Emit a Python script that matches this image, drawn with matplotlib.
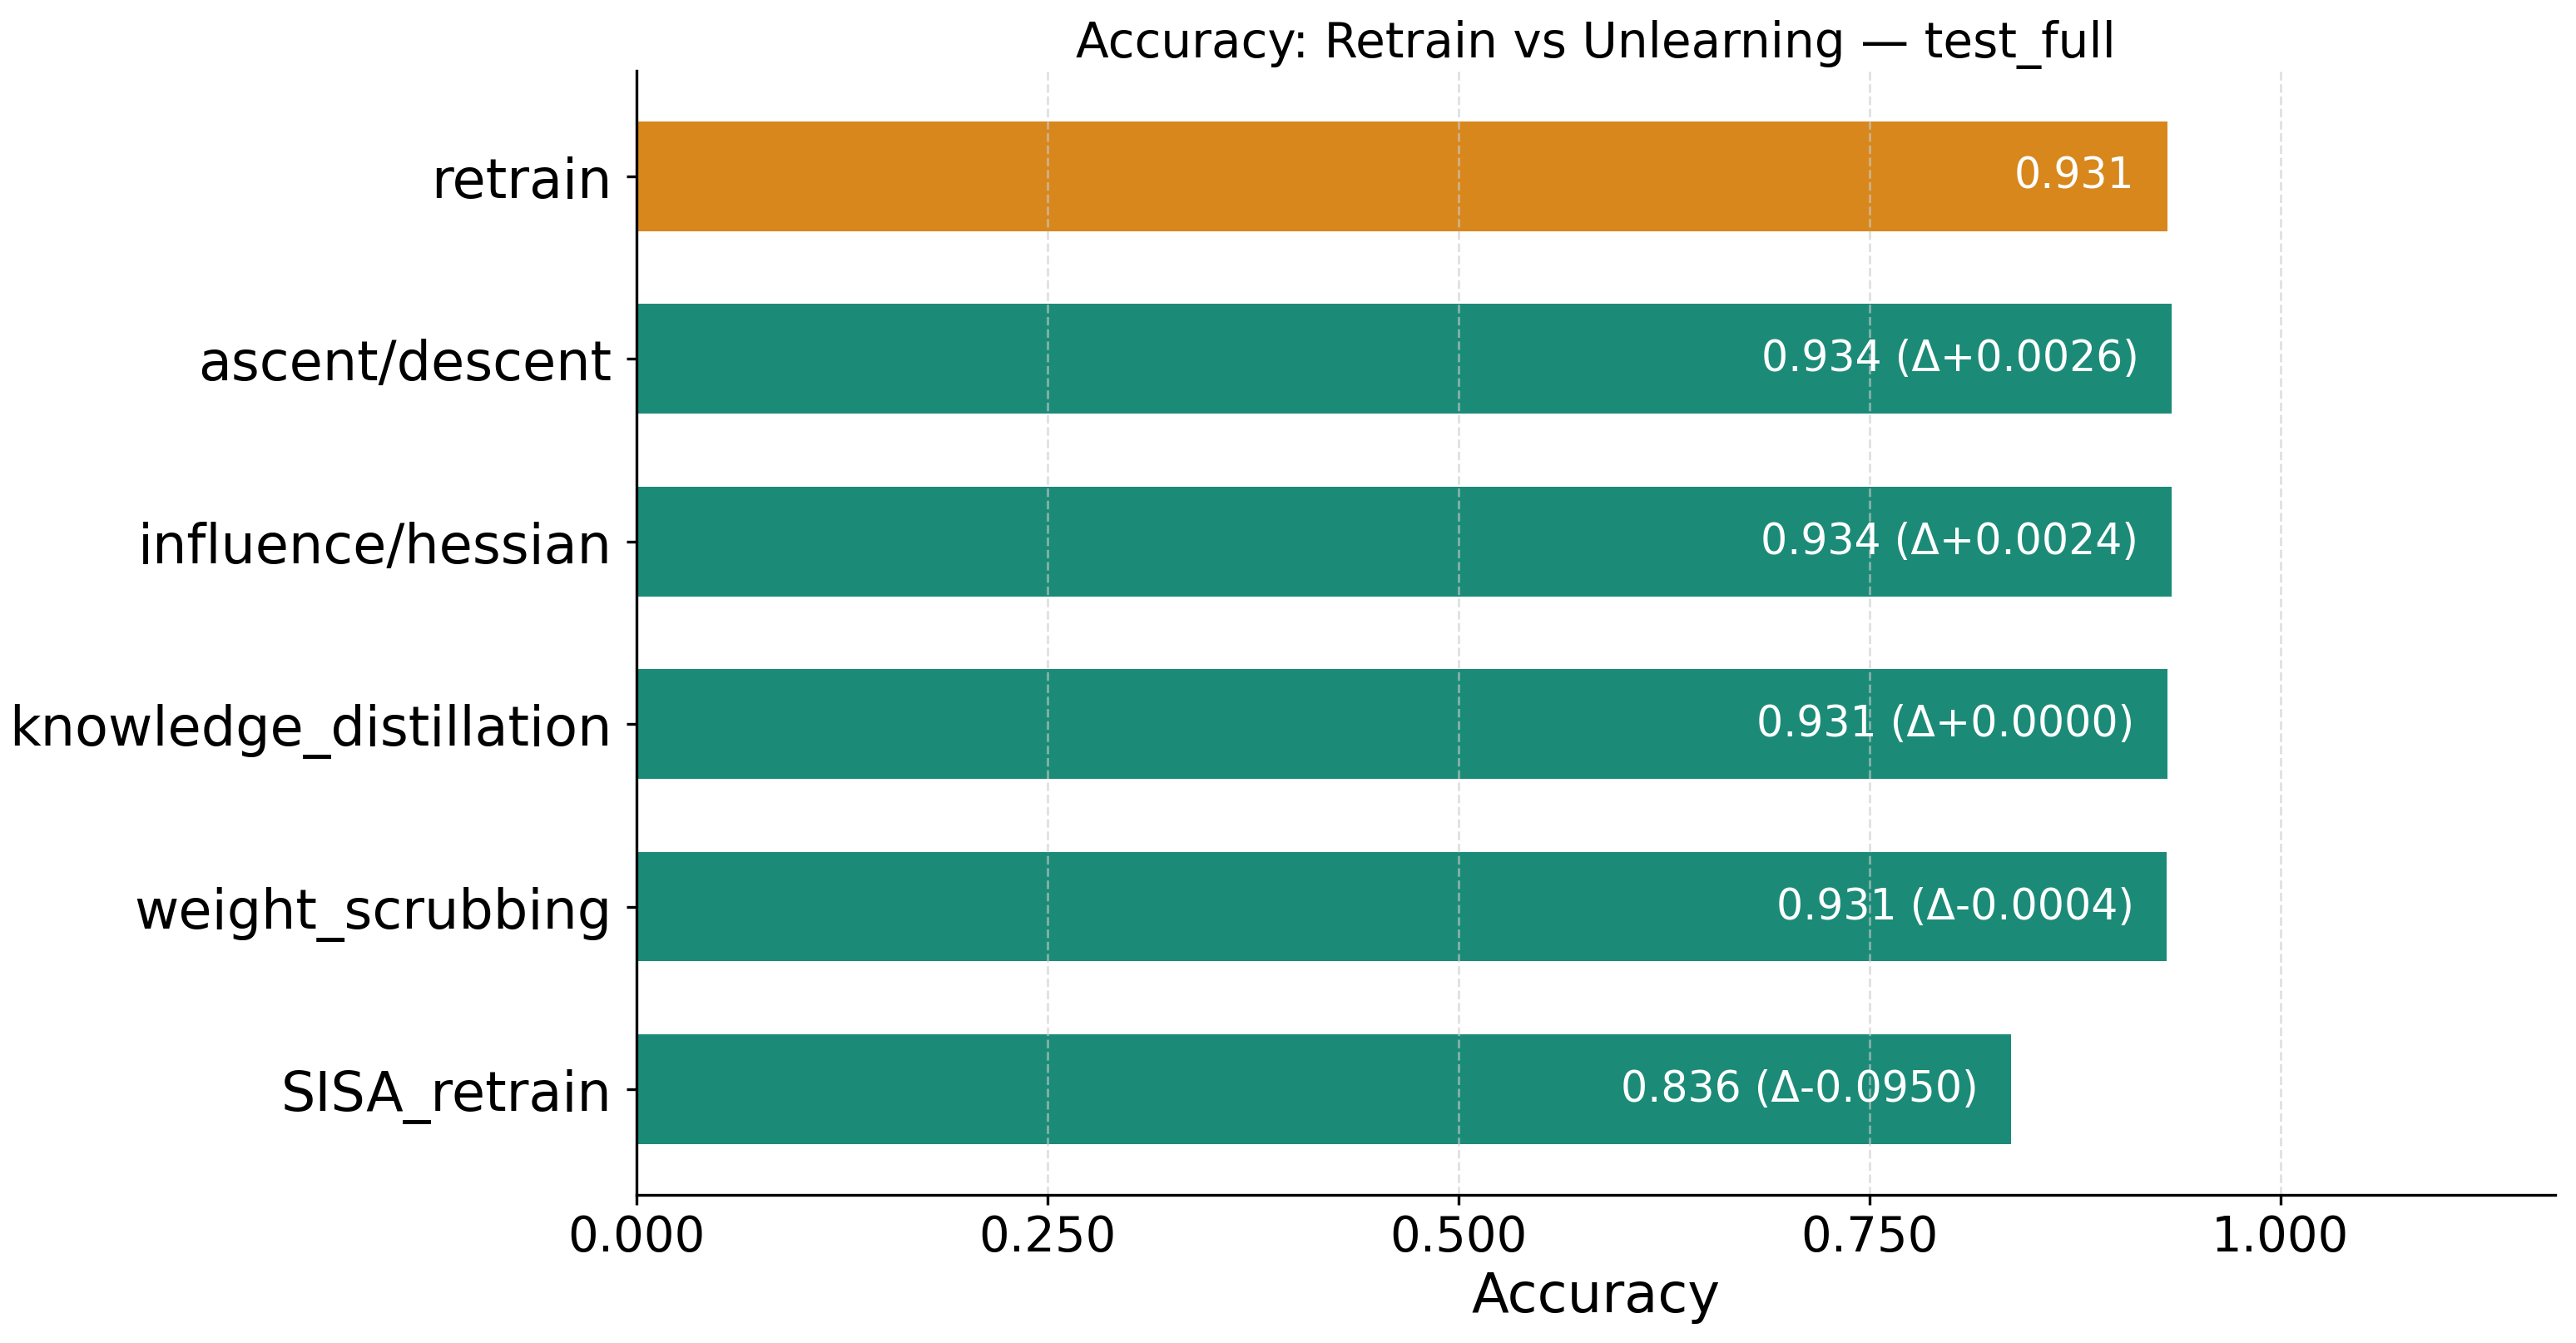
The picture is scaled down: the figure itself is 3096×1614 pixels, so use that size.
import matplotlib
matplotlib.use("Agg")
import matplotlib.pyplot as plt

# values
methods = ["retrain", "ascent/descent", "influence/hessian",
           "knowledge_distillation", "weight_scrubbing", "SISA_retrain"]
accuracy = [0.9312, 0.9338, 0.9336, 0.9312, 0.9308, 0.8362]
x_ticks = [0.0, 0.25, 0.5, 0.75, 1.0]

retrain_color = "#d8871d"
unlearn_color = "#1b8b78"


def make_labels(vals):
    base = vals[0]
    out = [f"{base:.3f}"]
    for v in vals[1:]:
        out.append(f"{v:.3f} (\u0394{v - base:+.4f})")
    return out


fig, ax = plt.subplots(figsize=(15.48, 8.075), dpi=200)
fig.subplots_adjust(left=0.247, right=0.992, top=0.947, bottom=0.110)

ypos = list(range(len(methods)))
colors = [retrain_color] + [unlearn_color] * (len(methods) - 1)
ax.barh(ypos, accuracy, height=0.6, color=colors)
ax.invert_yaxis()

xmax = max(accuracy) * 1.25
ax.set_xlim(0, xmax)

offset = xmax * 0.017
for y, v, lab in zip(ypos, accuracy, make_labels(accuracy)):
    ax.text(v - offset, y, lab, ha="right", va="center", color="white", fontsize=18.2)

ax.set_yticks(ypos)
ax.set_yticklabels(methods, fontsize=23.5)
ax.set_xticks(x_ticks)
ax.set_xticklabels([f"{t:.3f}" for t in x_ticks], fontsize=20.8)
ax.tick_params(axis="both", length=4.3, width=1.2)
ax.tick_params(axis="y", pad=6.3)
ax.set_xlabel("Accuracy", fontsize=23.6)
ax.set_title("Accuracy: Retrain vs Unlearning \u2014 test_full", fontsize=20.9)

ax.grid(axis="x", linestyle="--", color="#cccccc", alpha=0.6, linewidth=1.0)
ax.spines["top"].set_visible(False)
ax.spines["right"].set_visible(False)
for side in ("left", "bottom"):
    ax.spines[side].set_linewidth(1.2)

fig.savefig("out.png", dpi=200)
plt.close(fig)
